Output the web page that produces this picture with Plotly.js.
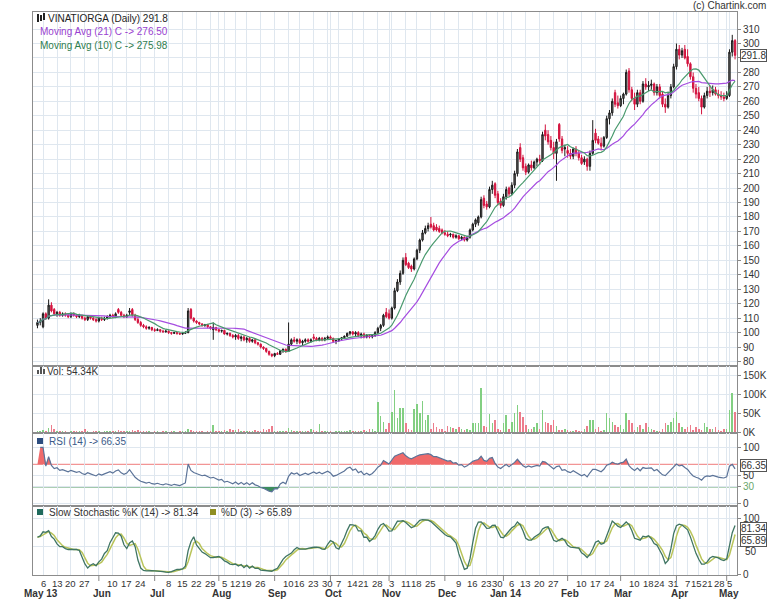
<!DOCTYPE html>
<html><head><meta charset="utf-8">
<script src="https://cdn.plot.ly/plotly-3.0.1.min.js"></script>
<style>html,body{margin:0;padding:0;background:#fff}#chart{width:772px;height:600px}</style>
</head><body><div id="chart"></div>
<script>
// ---- price data (one entry per trading day, 2 May 2013 .. 7 May 2014) ----
const opens = [
105,107,104,113,110,119,116,113,114,112,
113,112,111,113,112,111,112,110,109,111,
110,109,108,110,109,110,111,112,111,116,
114,112,111,114,116,112,109,107,105,104,
103,103.5,102,101.5,102,101,100.5,101,100,99.5,
100,99.5,99,99.5,100,116,110,108,107,106,
105,105.5,104,102,103.5,102,101,101.5,99,99.5,
98,97,98,96,97,95,96,94,95,93,
92,90,89,87,85,84,85.5,85,87.5,88.5,
87,92,95,94,95,93,94,95,94,97,
96,95,96,95,96,97,96,94,94.5,95.5,
96.5,97.5,99.5,100.5,99,100,98,99,97,98,
97,98,100,103,105,114,113,110,117,129,
135,141,152,148,146,144,151,157,164,169,
172,175,174,173,172,171,169,168,167.5,168,
166,167,165,166,164,166,171,175,176,180,
193,189,187,199,203,196,191,188,194,200,
196,202,210,228,221,215,211,216,214,218,
220,219,240,237,233,228,224,244,234,227,
226,224,222,227,224,221,218,220,215,224,
238,234,231,229,235,248,252,266,259,257,
262,265,281,268,262,258,266,260,272,270,
271,272,266,270,265,258,256,264,270,284,
296,292,296,291,286,277,269,266,262,256,
264,267,266,268,265,264,263,262,264,294,
302];
const highs = [
109,110,114,114,123,121,117,115,115,114,
114,113,114,114,113,113,112,111,112,112,
111,110,111,111,111,112,113,113,114,117,
115,113,113,117,117,113,111,108,106,105,
104.5,104,103,103,102.5,102,102,101.5,100.5,100.5,
100.5,100,100,101,117,117,110.5,108.5,107.5,106.5,
106,106,104.5,107,104,102.5,102,102,100,100,
99,99,99,98,98,97,97,95.5,96,93.5,
92.5,90.5,89.5,87.5,85.5,86,86.5,88,89,89,
107,96,97,96,96,95,96,96,96,99,
97,97,97,97,98,98,96.5,95,96,97,
98,100,101,101,101,101,100,100,99,99,
99,101,104,106,113,117,116,118,131,137,
143,152,155,149,147,152,158,165,171,174,
176,180,176,175,174,172,171,170,169,168.5,
168,167.5,167,166.5,167,172,176,179,181,194,
195,191,201,205,204,198,193,196,201,201,
204,212,227,231,223,217,217,219,219,221,
223,239,244,240,236,232,234,245,236,230,
229,227,228,229,226,223,222,221,226,247,
241,236,235,236,250,254,262,268,264,264,
266,282,283,270,266,268,268,274,276,274,
275,273,272,272,267,262,266,272,286,300,
299,297,299,296,287,280,272,270,264,266,
270,271,271,270,268,267,266,267,296,306,
303];
const lows = [
103,105,103,109,109,114,112,111,111,111,
111,110,110,111,110,110,109,108,108,109,
108,107,107,108,108,109,110,110,110,113,
111,110,110,112,111,108,106,104,103,102,
102,101,100.5,101,100,100,100,99,98.5,99,
98.5,98.5,98.5,99,99.5,109,107,106,105,104,
104,103,102,95,101,100,100,98.5,98,97,
96,95,95,94,94,93,93,93,92,91,
89,88,86,84,83,83,84.5,84.5,86,86,
87,91,93,92,92,91,93,93,93,94,
94,94,94,94,95,95,93,92,93.5,95,
96,97,98,98,97,97,96,96,96,96,
96,97,99,101,104,110,109,109,116,128,
133,140,146,144,142,143,150,155,163,168,
170,172,170,170,169,168,167,166,166,165,
165,164,164,163,163,165,170,173,174,179,
186,185,186,196,193,188,186,187,192,194,
195,200,208,218,212,209,210,212,213,215,
216,218,233,230,226,220,205,232,224,222,
221,220,220,222,219,216,216,212,212,223,
231,230,226,228,234,244,250,256,255,256,
258,264,266,260,254,256,258,259,268,267,
268,264,264,262,256,252,255,262,269,282,
289,290,289,284,275,266,262,260,251,255,
262,263,264,264,262,261,260,261,263,291,
289];
const closes = [
107,108,113,110,119,115,113,114,112,113,
112,111,113,112,111,112,110,109,111,110,
109,108,110,109,110,111,112,111,113,114,
112,111,112,115,112,109,107,105,104,103,
103.5,102,101.5,102,101,100.5,101,100,99.5,100,
99.5,99,99.5,100,115,110,108,107,106,105,
105.5,104,103,103.5,102,101,101.5,99,99.5,98,
97,98,96,97,95,96,94,95,93,92,
90,89,87,85,84,85.5,85,87.5,88.5,87,
92,95,94,95,93,94,95,94,95,96,
95,96,95,96,97,96,94,94.5,95.5,96.5,
97.5,99.5,100.5,99,100,98,99,97,98,97,
98,100,103,105,112,111,110,117,129,135,
141,150,147,145,144,151,157,164,169,172,
174,173,171,171,170,169,168,167,168,166,
167,165,166,164,166,171,175,178,180,192,
188,187,199,202,195,190,188,194,199,196,
202,210,225,220,214,211,216,214,218,220,
219,237,236,232,228,224,232,234,226,228,
224,222,227,224,221,217,220,215,224,233,
233,231,229,235,248,252,260,258,257,262,
265,280,268,262,258,266,260,272,270,271,
272,266,270,264,258,256,264,270,284,296,
292,295,290,286,277,269,265,262,256,264,
267,266,268,265,264,263,262,264,294,302,
291.8];
const volumesK = [
3,4,6,5,12,19,8,4,3,5,
3,2,4,3,5,3,4,10,3,2,
4,3,5,2,3,4,3,5,4,6,
3,4,3,5,7,4,6,5,3,4,
3,2,4,3,2,5,3,2,4,3,
2,3,4,5,10,6,4,3,5,3,
2,4,3,19,5,4,3,6,5,10,
7,6,8,4,3,5,4,3,6,4,
5,8,6,9,17,5,4,3,4,3,
12,6,4,3,5,4,3,5,8,6,
4,22,5,3,4,3,2,4,3,5,
4,3,6,5,4,3,5,6,4,10,
8,5,80,43,28,10,24,54,111,39,
63,63,24,10,6,61,76,52,83,34,
46,10,24,15,9,10,5,17,15,12,
10,15,9,6,9,6,25,24,25,118,
17,15,48,24,32,10,6,24,46,10,
28,50,72,53,41,19,8,8,15,24,
10,59,28,25,19,32,17,6,6,8,
6,4,3,6,4,5,10,17,32,34,
10,15,5,6,50,37,28,19,15,19,
8,50,32,24,6,15,19,10,25,15,
8,6,4,5,10,24,19,28,37,54,
24,15,10,15,19,6,15,10,6,24,
15,10,10,15,6,5,10,8,59,103,
54.34];

// ---- axis labels ----
const weekTickIdx = [2,7,12,17,27,32,37,47,52,57,62,67,71,75,80,90,94,99,104,108,113,117,122,127,132,136,141,151,156,161,165,170,175,180,185,195,200,205,214,219,223,228,233,237,240,244,248];
const weekTickText = ['6','13','20','27','10','17','24','8','15','22','29','5','12','19','26','10','16','23','30','7','14','21','28','3','11','18','25','9','16','23','30','6','13','20','27','10','17','24','10','18','24','31','7','15','21','28','5'];
const monthIdx = [0,22,42,65,85,105,126,146,167,190,209,229,247];
const monthText = ['May 13','Jun','Jul','Aug','Sep','Oct','Nov','Dec','Jan 14','Feb','Mar','Apr','May'];
const priceTicks = [80,90,100,110,120,130,140,150,160,170,180,190,200,210,220,230,240,250,260,270,280,290,300,310];
const priceTickText = ['80','90','100','110','120','130','140','150','160','170','180','190','200','210','220','230','240','250','260','270','280','','300','310'];
const volTicks = [0,50,100,150];
const volTickText = ['0K','50K','100K','150K'];
const rsiTicks = [0,30,50,100];
const stochTicks = [0,50,100];
const stochTickText = ['0','','100'];
const labels = {title:'VINATIORGA (Daily) 291.8', ma21:'Moving Avg (21) C -> 276.50', ma10:'Moving Avg (10) C -> 275.98',
  vol:'Vol: 54.34K', rsi:'RSI (14) -> 66.35', stK:'Slow Stochastic %K (14) -> 81.34', stD:'%D (3) -> 65.89',
  last:'291.8', rsiLast:'66.35', kLast:'81.34', dLast:'65.89', stoch50:'50'};

// ---- indicators derived from the price data ----
function sma(arr, n){ return arr.map((_,i)=>{let s=0,c=0;for(let j=Math.max(0,i-n+1);j<=i;j++){if(arr[j]!=null){s+=arr[j];c++;}}return c?s/c:null;}); }
const ma21 = sma(closes,21), ma10 = sma(closes,10);
const rsi = [null]; {let ag=0,al=0; for(let i=1;i<closes.length;i++){const ch=closes[i]-closes[i-1];const g=Math.max(ch,0),l=Math.max(-ch,0);
  if(i<=14){ag=(ag*(i-1)+g)/i;al=(al*(i-1)+l)/i;}else{ag=(ag*13+g)/14;al=(al*13+l)/14;}
  rsi.push(al===0?100:100-100/(1+ag/al));}}
const fastK = closes.map((c,i)=>{let hh=-1e9,ll=1e9;for(let j=Math.max(0,i-13);j<=i;j++){hh=Math.max(hh,highs[j]);ll=Math.min(ll,lows[j]);}return hh>ll?100*(c-ll)/(hh-ll):50;});
const slowK = sma(fastK,3), slowD = sma(slowK,3);

const xs = closes.map((_,i)=>i);
const W=704, H=563, L=33, T=12;
const px = v => (v-L)/W, py = v => (575-v)/H;

const gridVals = weekTickIdx.concat(monthIdx.slice(1));

const FONT = 'Liberation Sans, Arial, sans-serif';
const gridC = '#dfe7ef', lineC = '#8c8c8c';
function xax(){ return {range:[-1.6,250.7], tickvals:gridVals, showticklabels:false, ticks:'', 
  showgrid:true, gridcolor:gridC, zeroline:false, showline:true, mirror:true, linecolor:lineC, linewidth:1, fixedrange:true}; }
function yax(dom, rng, tv, tt){ const a={domain:dom, range:rng, side:'right', tickvals:tv, showgrid:true, gridcolor:gridC, zeroline:false, showline:true, mirror:true,
  linecolor:lineC, linewidth:1, ticks:'outside', ticklen:3, tickcolor:'#888', tickfont:{family:FONT,size:10,color:'#333'}, fixedrange:true}; if(tt)a.ticktext=tt; return a; }

const traces = [
 {type:'candlestick', x:xs, open:opens, high:highs, low:lows, close:closes, xaxis:'x', yaxis:'y', whiskerwidth:0,
  increasing:{line:{color:'#1a1a1a',width:1}, fillcolor:'#6e6e6e'}, decreasing:{line:{color:'#d3123e',width:1}, fillcolor:'#d3123e'}, hoverinfo:'skip'},
 {type:'scatter', mode:'lines', x:xs, y:ma21, xaxis:'x', yaxis:'y', line:{color:'#a64de0',width:1.2}, hoverinfo:'skip'},
 {type:'scatter', mode:'lines', x:xs, y:ma10, xaxis:'x', yaxis:'y', line:{color:'#4a9a6e',width:1.2}, hoverinfo:'skip'},
 {type:'bar', x:xs, y:volumesK, xaxis:'x2', yaxis:'y2', width:0.55, marker:{color:closes.map((c,i)=>c>=opens[i]?'#82cf82':'#ec7d8c'), line:{width:0}}, hoverinfo:'skip'},
 {type:'scatter', mode:'lines', x:xs, y:xs.map(()=>70), xaxis:'x3', yaxis:'y3', line:{color:'rgba(0,0,0,0)',width:0}, hoverinfo:'skip'},
 {type:'scatter', mode:'lines', x:xs, y:rsi.map(v=>v==null?70:Math.max(v,70)), xaxis:'x3', yaxis:'y3', line:{color:'rgba(0,0,0,0)',width:0}, fill:'tonexty', fillcolor:'#f06a6a', hoverinfo:'skip'},
 {type:'scatter', mode:'lines', x:xs, y:xs.map(()=>30), xaxis:'x3', yaxis:'y3', line:{color:'rgba(0,0,0,0)',width:0}, hoverinfo:'skip'},
 {type:'scatter', mode:'lines', x:xs, y:rsi.map(v=>v==null?30:Math.min(v,30)), xaxis:'x3', yaxis:'y3', line:{color:'rgba(0,0,0,0)',width:0}, fill:'tonexty', fillcolor:'#3c8d5c', hoverinfo:'skip'},
 {type:'scatter', mode:'lines', x:xs, y:rsi, xaxis:'x3', yaxis:'y3', line:{color:'#5b7398',width:1.2}, hoverinfo:'skip'},
 {type:'scatter', mode:'lines', x:xs, y:slowD, xaxis:'x4', yaxis:'y4', line:{color:'#b9c45a',width:1.5}, hoverinfo:'skip'},
 {type:'scatter', mode:'lines', x:xs, y:slowK, xaxis:'x4', yaxis:'y4', line:{color:'#3f7563',width:1.3}, hoverinfo:'skip'}
];

const ann = [];
function txt(t, x, y, color, opts){ ann.push(Object.assign({text:t, xref:'paper', yref:'paper', x:px(x), y:py(y), xanchor:'left', yanchor:'middle', showarrow:false,
  font:{family:FONT,size:10,color:color}}, opts||{})); }
txt(labels.title, 46, 18, '#222');
txt(labels.ma21, 38, 32, '#9a3fd0');
txt(labels.ma10, 38, 45, '#2f7d4f');
txt(labels.vol, 45, 371, '#333');
txt(labels.rsi, 47, 441, '#3b5a88');
txt(labels.stK, 47, 512, '#333');
txt(labels.stD, 219, 512, '#333');
txt('(c) Chartink.com', 768, 6, '#333', {xanchor:'right'});
txt(labels.stoch50, 743, 551, '#333');
function box(t, ypx){ ann.push({text:t, xref:'paper', yref:'paper', x:1, y:py(ypx), xanchor:'left', yanchor:'middle', xshift:3, showarrow:false,
  bordercolor:'#555', borderwidth:1, borderpad:0, bgcolor:'#fff', font:{family:FONT,size:10,color:'#333'}}); }
box(labels.last, 56); box(labels.rsiLast, 465); box(labels.kLast, 528); box(labels.dLast, 540);
const dayShift = {237:-2, 240:0.5, 244:1};
weekTickIdx.forEach((v,i)=>{ ann.push({text:weekTickText[i], xref:'x4', yref:'paper', x:v, y:py(583), xanchor:'center', yanchor:'middle', showarrow:false,
  xshift: dayShift[v]||0, font:{family:FONT,size:9.5,color:'#333'}}); });
monthIdx.forEach((m,i)=>{ ann.push({text:'<b>'+monthText[i]+'</b>', xref:'x4', yref:'paper', x: i===0? 1.2 : m+1, y:py(593), xanchor:'center', yanchor:'middle', showarrow:false,
  font:{family:FONT,size:10,color:'#333'}}); });

const shapes = [];
shapes.push({type:'line', xref:'x3', yref:'y3', x0:-1.6, x1:250.7, y0:70, y1:70, line:{color:'#ef7b7b',width:1}, layer:'below'});
shapes.push({type:'line', xref:'x3', yref:'y3', x0:-1.6, x1:250.7, y0:30, y1:30, line:{color:'#5d9f68',width:1}, layer:'below'});
monthIdx.slice(1).forEach(m=>{ shapes.push({type:'line', xref:'x4', yref:'paper', x0:m, x1:m, y0:0, y1:py(581), line:{color:'#888',width:1}}); });
function rect(x0,y0,x1,y1,c){ shapes.push({type:'rect', xref:'paper', yref:'paper', x0:px(x0), x1:px(x1), y0:py(y1), y1:py(y0), fillcolor:c, line:{width:0}}); }
rect(37,14,39,22,'#222'); rect(40,15,42,21,'#222'); rect(43,13,45,20,'#222');
rect(37,370,39,374,'#555'); rect(40,367,42,374,'#555'); rect(43,369,45,374,'#555');
rect(37,438,43,444,'#2d4d7f');
rect(37,509,43,515,'#1f6a5c');
rect(210,509,216,515,'#8f8f22');

const layout = {width:772, height:600, margin:{l:L, r:35, t:T, b:25}, paper_bgcolor:'#fff', plot_bgcolor:'#fff', showlegend:false,
  font:{family:FONT,size:10,color:'#333'},
  xaxis: Object.assign(xax(), {anchor:'y', rangeslider:{visible:false}}),
  xaxis2: Object.assign(xax(), {anchor:'y2', matches:'x'}),
  xaxis3: Object.assign(xax(), {anchor:'y3', matches:'x'}),
  xaxis4: Object.assign(xax(), {anchor:'y4', matches:'x'}),
  yaxis: Object.assign(yax([0.371,1],[76.8,321.8],priceTicks,priceTickText), {anchor:'x'}),
  yaxis2: Object.assign(yax([0.252,0.371],[-1.8,174.5],volTicks,volTickText), {anchor:'x2'}),
  yaxis3: Object.assign(yax([0.1226,0.252],[-3.5,125],rsiTicks,['0','<span style="color:#6aa66a">30</span>','50','100']), {anchor:'x3'}),
  yaxis4: Object.assign(yax([0,0.1226],[0,121.9],stochTicks,stochTickText), {anchor:'x4'}),
  annotations: ann, shapes: shapes, bargap:0};

Plotly.newPlot('chart', traces, layout, {staticPlot:true, displayModeBar:false});
</script></body></html>
